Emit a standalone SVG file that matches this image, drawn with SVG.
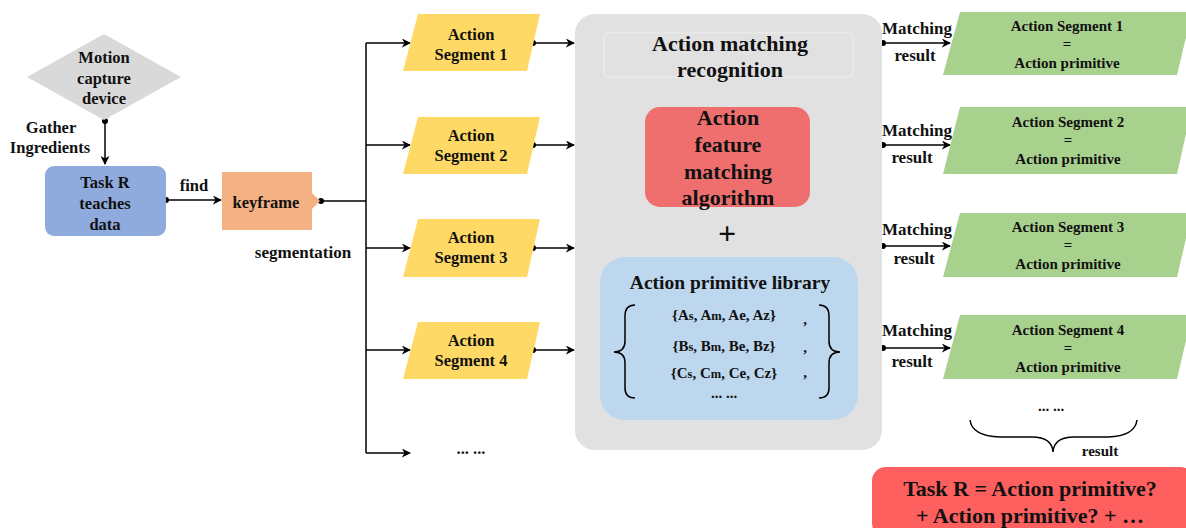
<svg xmlns="http://www.w3.org/2000/svg" width="1186" height="528" viewBox="0 0 1186 528">
<defs>
<marker id="arr" viewBox="0 0 10 10" refX="9" refY="5" markerWidth="9" markerHeight="9" markerUnits="userSpaceOnUse" orient="auto"><path d="M0,0 L10,5 L0,10 L3,5 z" fill="#000"/></marker>
<marker id="dot" viewBox="0 0 10 10" refX="5" refY="5" markerWidth="6" markerHeight="6" markerUnits="userSpaceOnUse"><circle cx="5" cy="5" r="5" fill="#000"/></marker>
</defs>
<style>
text{font-family:"Liberation Serif","Times New Roman",serif;font-weight:bold;fill:#111;text-anchor:middle}
.t16{font-size:16.5px}
.t17{font-size:17px}
.t15{font-size:15px}
.t22{font-size:22px}
.ln{stroke:#000;stroke-width:1.5;fill:none}
.ar{marker-end:url(#arr)}
.ds{marker-start:url(#dot)}
.seg{fill:#ffd966}
.res{fill:#a9d18e}
.sub{font-size:12.5px}
</style>
<rect width="1186" height="528" fill="#fff"/>

<g id="connectors">
<path class="ln ds ar" d="M105,121 L105,164"/>
<path class="ln ds ar" d="M166,200 L221,200"/>
<path class="ln ds" d="M321,201 L366,201"/>
<path class="ln" d="M366,43 L366,453"/>
<path class="ln ar" d="M366,43 L410,43"/>
<path class="ln ar" d="M366,145 L410,145"/>
<path class="ln ar" d="M366,248 L410,248"/>
<path class="ln ar" d="M366,350 L410,350"/>
<path class="ln ar" d="M366,453 L410,453"/>
<path class="ln ds ar" d="M533,43 L574,43"/>
<path class="ln ds ar" d="M533,145 L574,145"/>
<path class="ln ds ar" d="M533,248 L574,248"/>
<path class="ln ds ar" d="M533,350 L574,350"/>
<path class="ln ds ar" d="M883,43 L950,43"/>
<path class="ln ds ar" d="M883,145 L950,145"/>
<path class="ln ds ar" d="M883,246 L950,246"/>
<path class="ln ds ar" d="M883,348 L950,348"/>
</g>

<g id="motion-capture">
<polygon points="104,34 181,77 104,120 27,77" fill="#d9d9d9"/>
<text class="t16" x="104" y="63">Motion</text>
<text class="t16" x="104" y="84">capture</text>
<text class="t16" x="104" y="104">device</text>
</g>
<g id="gather-label">
<text class="t16" x="51" y="133">Gather</text>
<text class="t16" x="50" y="153">Ingredients</text>
</g>

<g id="task-r">
<rect x="45" y="166" width="121" height="70" rx="9" fill="#8faadc"/>
<text class="t16" x="105" y="188">Task R</text>
<text class="t16" x="105" y="209">teaches</text>
<text class="t16" x="105" y="230">data</text>
</g>
<text class="t16" x="194" y="191">find</text>

<g id="keyframe">
<polygon points="222,172 312,172 312,193 320,201 312,209 312,230 222,230" fill="#f4b183"/>
<text class="t16" x="266" y="208">keyframe</text>
</g>
<text class="t17" x="303" y="258">segmentation</text>

<g id="seg1">
<polygon class="seg" points="418,14 540,14 527,71 403,71"/>
<text class="t16" x="471" y="40">Action</text>
<text class="t16" x="471" y="60">Segment 1</text>
</g>
<g id="seg2">
<polygon class="seg" points="418,117 540,117 527,174 403,174"/>
<text class="t16" x="471" y="141">Action</text>
<text class="t16" x="471" y="161">Segment 2</text>
</g>
<g id="seg3">
<polygon class="seg" points="418,219 540,219 527,277 403,277"/>
<text class="t16" x="471" y="243">Action</text>
<text class="t16" x="471" y="263">Segment 3</text>
</g>
<g id="seg4">
<polygon class="seg" points="418,322 540,322 527,379 403,379"/>
<text class="t16" x="471" y="346">Action</text>
<text class="t16" x="471" y="366">Segment 4</text>
</g>
<text class="t16" x="471" y="454">... ...</text>

<g id="matching">
<rect x="575" y="14" width="307" height="436" rx="20" fill="#e1e1e1"/>
<rect x="604" y="33" width="249" height="44" rx="4" fill="none" stroke="#eeeeee" stroke-width="1"/>
<text class="t22" x="730" y="51">Action matching</text>
<text class="t22" x="730" y="77">recognition</text>
</g>

<g id="algorithm">
<rect x="645" y="107" width="165" height="100" rx="15" fill="#ef6f6f"/>
<text class="t22" x="728" y="125">Action</text>
<text class="t22" x="728" y="152">feature</text>
<text class="t22" x="728" y="179">matching</text>
<text class="t22" x="728" y="205">algorithm</text>
</g>
<text x="727" y="244" style="font-size:32px">+</text>

<g id="library">
<rect x="600" y="257" width="258" height="163" rx="25" fill="#bdd7ee"/>
<text x="730" y="289" style="font-size:19.5px">Action primitive library</text>
<path class="ln" d="M635,305 Q625,305 625,316 L625,341 Q625,352 614,352 Q625,352 625,363 L625,388 Q625,398 635,398"/>
<path class="ln" d="M819,305 Q829,305 829,316 L829,341 Q829,352 840,352 Q829,352 829,363 L829,388 Q829,398 819,398"/>
<text class="t15" x="724" y="320">{A<tspan class="sub">s</tspan>, A<tspan class="sub">m</tspan>, Ae, Az}</text>
<text class="t15" x="724" y="351">{B<tspan class="sub">s</tspan>, B<tspan class="sub">m</tspan>, Be, Bz}</text>
<text class="t15" x="724" y="378">{C<tspan class="sub">s</tspan>, C<tspan class="sub">m</tspan>, Ce, Cz}</text>
<text class="t15" x="724" y="398">... ...</text>
<text class="t15" x="805" y="324">,</text>
<text class="t15" x="805" y="352">,</text>
<text class="t15" x="805" y="377">,</text>
</g>

<g id="mlabels">
<text class="t17" x="917" y="34">Matching</text>
<text class="t17" x="915" y="61">result</text>
<text class="t17" x="917" y="136">Matching</text>
<text class="t17" x="912" y="163">result</text>
<text class="t17" x="917" y="235">Matching</text>
<text class="t17" x="914" y="264">result</text>
<text class="t17" x="917" y="336">Matching</text>
<text class="t17" x="912" y="367">result</text>
</g>

<g id="res1">
<polygon class="res" points="960,12 1192,12 1177,75 943,75"/>
<text class="t15" x="1067" y="31">Action Segment 1</text>
<text class="t15" x="1067" y="49">=</text>
<text class="t15" x="1067" y="68">Action primitive</text>
</g>
<g id="res2">
<polygon class="res" points="960,107 1192,107 1177,174 943,174"/>
<text class="t15" x="1068" y="127">Action Segment 2</text>
<text class="t15" x="1068" y="145">=</text>
<text class="t15" x="1068" y="164">Action primitive</text>
</g>
<g id="res3">
<polygon class="res" points="960,213 1192,213 1177,277 943,277"/>
<text class="t15" x="1068" y="232">Action Segment 3</text>
<text class="t15" x="1068" y="250">=</text>
<text class="t15" x="1068" y="269">Action primitive</text>
</g>
<g id="res4">
<polygon class="res" points="960,315 1192,315 1177,379 943,379"/>
<text class="t15" x="1068" y="335">Action Segment 4</text>
<text class="t15" x="1068" y="353">=</text>
<text class="t15" x="1068" y="372">Action primitive</text>
</g>

<text class="t15" x="1051" y="411">... ...</text>
<path class="ln" d="M970,420 Q972,436 1000,437 L1032,437 Q1052,437 1053,452 Q1054,437 1074,437 L1108,437 Q1135,436 1137,420" stroke-width="1.2"/>
<text class="t15" x="1100" y="456">result</text>

<g id="final">
<rect x="872" y="467" width="322" height="70" rx="14" fill="#fe5f5f"/>
<text x="1030" y="496" style="font-size:22px">Task R = Action primitive?</text>
<text x="1030" y="523" style="font-size:22px">+ Action primitive? + …</text>
</g>
</svg>
